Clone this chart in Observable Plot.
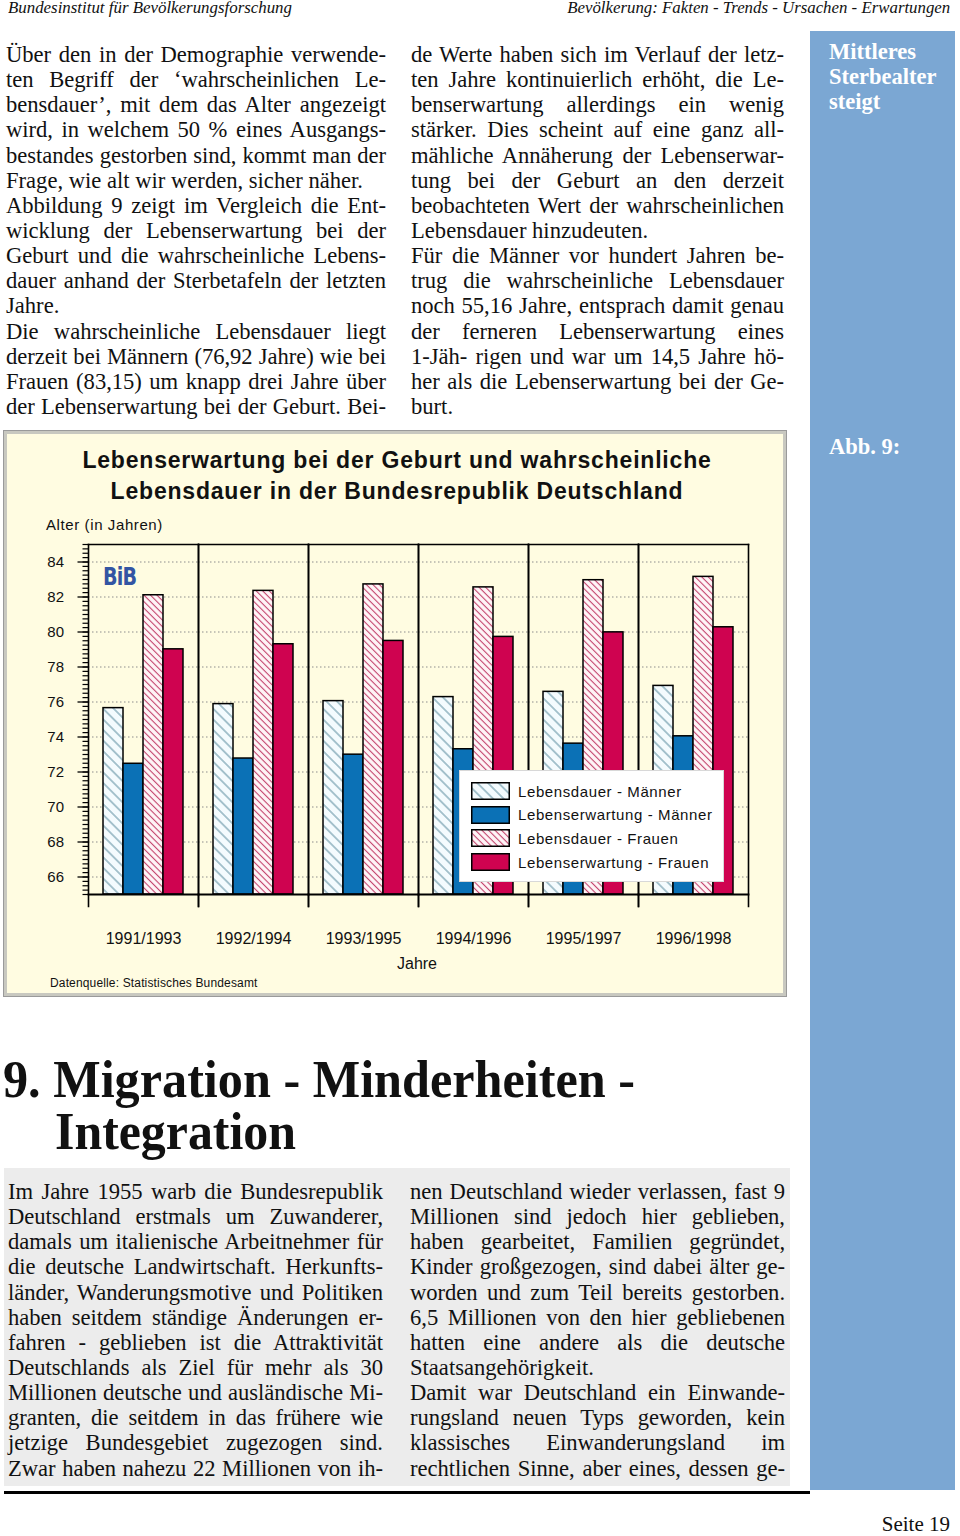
<!DOCTYPE html>
<html lang="de">
<head>
<meta charset="utf-8">
<script src="https://cdn.jsdelivr.net/npm/d3@7"></script>
<script src="https://cdn.jsdelivr.net/npm/@observablehq/plot@0.6"></script>
<style>
  html, body { margin: 0; padding: 0; background: #ffffff; }
  body { position: relative; width: 960px; height: 1536px; overflow: hidden; font-family: "Liberation Serif", "Times New Roman", serif; color: #111; }
  .abs { position: absolute; }
  .hdr { font-style: italic; font-size: 16px; white-space: nowrap; top: -1px; }
  .col { position: absolute; font-size: 22.6px; line-height: 25.15px; }
  .col div { height: 25.15px; white-space: nowrap; }
  .j { text-align: justify; text-align-last: justify; }
  .l { text-align: left; }
  .side { font-weight: bold; color: #ffffff; font-size: 22.5px; line-height: 25px; }
  .sans { font-family: "Liberation Sans", Arial, sans-serif; }
  .legend .row { position: absolute; left: 11px; height: 18px; display: flex; align-items: center; }
  .legend svg { display: block; }
  .legend span { margin-left: 8px; font-size: 15px; letter-spacing: 0.6px; white-space: nowrap; }
</style>
</head>
<body>
<script>
// ---------------- data ----------------
const periods = ["1991/1993", "1992/1994", "1993/1995", "1994/1996", "1995/1997", "1996/1998"];
const seriesNames = ["Lebensdauer - Männer", "Lebenserwartung - Männer", "Lebensdauer - Frauen", "Lebenserwartung - Frauen"];
const lebensdauerMaenner    = [75.65, 75.88, 76.05, 76.28, 76.58, 76.92];
const lebenserwartungMaenner = [72.47, 72.77, 72.99, 73.30, 73.62, 74.04];
const lebensdauerFrauen     = [82.10, 82.35, 82.72, 82.55, 82.96, 83.15];
const lebenserwartungFrauen  = [79.01, 79.30, 79.49, 79.72, 79.98, 80.27];
const yDomain = [65, 85];
const yMajorTicks = [66, 68, 70, 72, 74, 76, 78, 80, 82, 84];
const seriesFills = ["url(#hatchM)", "#0b71b6", "url(#hatchF)", "#cf0350"];
</script>

<!-- pattern definitions -->
<svg width="0" height="0" style="position:absolute;left:0;top:0">
  <defs>
    <pattern id="hatchM" patternUnits="userSpaceOnUse" width="7.5" height="7.5" patternTransform="rotate(-45)">
      <rect width="7.5" height="7.5" fill="#f4fbfe"></rect>
      <line x1="3.75" y1="0" x2="3.75" y2="7.5" stroke="#5b8c9e" stroke-width="1"></line>
    </pattern>
    <pattern id="hatchF" patternUnits="userSpaceOnUse" width="4.6" height="4.6" patternTransform="rotate(-45)">
      <rect width="4.6" height="4.6" fill="#fff6f8"></rect>
      <line x1="2.3" y1="0" x2="2.3" y2="4.6" stroke="#c2406a" stroke-width="1.1"></line>
    </pattern>
  </defs>
</svg>

<!-- running header -->
<div class="abs hdr" id="hdrL" style="left:8px;">Bundesinstitut für Bevölkerungsforschung</div>
<div class="abs hdr" id="hdrR" style="right:10px;">Bevölkerung: Fakten - Trends - Ursachen - Erwartungen</div>

<!-- sidebar -->
<div class="abs" style="left:810px;top:31px;width:145px;height:1459px;background:#7ba7d3;"></div>
<div class="abs side" style="left:829px;top:39px;">Mittleres<br>Sterbealter<br>steigt</div>
<div class="abs side" style="left:829px;top:434px;">Abb. 9:</div>

<!-- text column 1 -->
<div class="col" style="left:6px;top:42px;width:380px;">
  <div class="j">Über den in der Demographie verwende-</div>
  <div class="j">ten Begriff der ‘wahrscheinlichen Le-</div>
  <div class="j">bensdauer’, mit dem das Alter angezeigt</div>
  <div class="j">wird, in welchem 50 % eines Ausgangs-</div>
  <div class="j">bestandes gestorben sind, kommt man der</div>
  <div class="l">Frage, wie alt wir werden, sicher näher.</div>
  <div class="j">Abbildung 9 zeigt im Vergleich die Ent-</div>
  <div class="j">wicklung der Lebenserwartung bei der</div>
  <div class="j">Geburt und die wahrscheinliche Lebens-</div>
  <div class="j">dauer anhand der Sterbetafeln der letzten</div>
  <div class="l">Jahre.</div>
  <div class="j">Die wahrscheinliche Lebensdauer liegt</div>
  <div class="j">derzeit bei Männern (76,92 Jahre) wie bei</div>
  <div class="j">Frauen (83,15) um knapp drei Jahre über</div>
  <div class="j">der Lebenserwartung bei der Geburt. Bei-</div>
</div>

<!-- text column 2 -->
<div class="col" style="left:411px;top:42px;width:373px;">
  <div class="j">de Werte haben sich im Verlauf der letz-</div>
  <div class="j">ten Jahre kontinuierlich erhöht, die Le-</div>
  <div class="j">benserwartung allerdings ein wenig</div>
  <div class="j">stärker. Dies scheint auf eine ganz all-</div>
  <div class="j">mähliche Annäherung der Lebenserwar-</div>
  <div class="j">tung bei der Geburt an den derzeit</div>
  <div class="j">beobachteten Wert der wahrscheinlichen</div>
  <div class="l">Lebensdauer hinzudeuten.</div>
  <div class="j">Für die Männer vor hundert Jahren be-</div>
  <div class="j">trug die wahrscheinliche Lebensdauer</div>
  <div class="j">noch 55,16 Jahre, entsprach damit genau</div>
  <div class="j">der ferneren Lebenserwartung eines</div>
  <div class="j">1-Jäh- rigen und war um 14,5 Jahre hö-</div>
  <div class="j">her als die Lebenserwartung bei der Ge-</div>
  <div class="l">burt.</div>
</div>

<!-- chart panel -->
<div class="abs" style="left:4px;top:431px;width:776px;height:559px;background:#fffce1;border:3px solid #c8c8c0;outline:1px solid #9a9a9a;"></div>
<div class="abs sans" style="left:4px;top:445px;width:786px;text-align:center;font-weight:bold;font-size:23px;letter-spacing:0.8px;line-height:31px;color:#111;">Lebenserwartung bei der Geburt und wahrscheinliche<br>Lebensdauer in der Bundesrepublik Deutschland</div>
<div class="abs sans" style="left:46px;top:516px;font-size:15px;letter-spacing:0.6px;color:#111;">Alter (in Jahren)</div>
<div id="chart" class="abs" style="left:4px;top:531px;"></div>
<div class="abs sans" style="left:103px;top:562px;font-size:25px;font-weight:bold;color:#3355a3;font-family:'DejaVu Sans Condensed','Liberation Sans Narrow','Liberation Sans',sans-serif;letter-spacing:-1px;transform:scaleX(0.85);transform-origin:left;">BiB</div>
<div class="abs sans" style="left:4px;top:955px;width:826px;text-align:center;font-size:16px;color:#111;">Jahre</div>
<div class="abs sans" style="left:50px;top:976px;font-size:12px;letter-spacing:0.15px;color:#111;">Datenquelle: Statistisches Bundesamt</div>

<!-- legend -->
<div class="abs sans legend" id="legend" style="left:459px;top:770px;width:265px;height:112px;background:#ffffff;border:1px solid #d8d8d8;box-sizing:border-box;"></div>

<!-- section heading -->
<div class="abs" id="h1a" style="left:3px;top:1052px;font-weight:bold;font-size:52px;line-height:56px;white-space:nowrap;transform-origin:left top;">9. Migration - Minderheiten -</div>
<div class="abs" id="h1b" style="left:55px;top:1104px;font-weight:bold;font-size:52px;line-height:56px;white-space:nowrap;transform-origin:left top;">Integration</div>

<!-- grey text box -->
<div class="abs" style="left:4px;top:1168px;width:786px;height:318px;background:#ececec;"></div>
<div class="col" style="left:8px;top:1179px;width:375px;">
  <div class="j">Im Jahre 1955 warb die Bundesrepublik</div>
  <div class="j">Deutschland erstmals um Zuwanderer,</div>
  <div class="j">damals um italienische Arbeitnehmer für</div>
  <div class="j">die deutsche Landwirtschaft. Herkunfts-</div>
  <div class="j">länder, Wanderungsmotive und Politiken</div>
  <div class="j">haben seitdem ständige Änderungen er-</div>
  <div class="j">fahren - geblieben ist die Attraktivität</div>
  <div class="j">Deutschlands als Ziel für mehr als 30</div>
  <div class="j">Millionen deutsche und ausländische Mi-</div>
  <div class="j">granten, die seitdem in das frühere wie</div>
  <div class="j">jetzige Bundesgebiet zugezogen sind.</div>
  <div class="j">Zwar haben nahezu 22 Millionen von ih-</div>
</div>
<div class="col" style="left:410px;top:1179px;width:375px;">
  <div class="j">nen Deutschland wieder verlassen, fast 9</div>
  <div class="j">Millionen sind jedoch hier geblieben,</div>
  <div class="j">haben gearbeitet, Familien gegründet,</div>
  <div class="j">Kinder großgezogen, sind dabei älter ge-</div>
  <div class="j">worden und zum Teil bereits gestorben.</div>
  <div class="j">6,5 Millionen von den hier gebliebenen</div>
  <div class="j">hatten eine andere als die deutsche</div>
  <div class="l">Staatsangehörigkeit.</div>
  <div class="j">Damit war Deutschland ein Einwande-</div>
  <div class="j">rungsland neuen Typs geworden, kein</div>
  <div class="j">klassisches Einwanderungsland im</div>
  <div class="j">rechtlichen Sinne, aber eines, dessen ge-</div>
</div>

<div class="abs" style="left:4px;top:1491px;width:806px;height:3px;background:#000;"></div>
<div class="abs" style="right:10px;top:1512px;font-size:21px;">Seite 19</div>

<script>
// tidy table built from the named arrays
const seriesValues = [lebensdauerMaenner, lebenserwartungMaenner, lebensdauerFrauen, lebenserwartungFrauen];
const rows = [];
periods.forEach((p, i) => seriesNames.forEach((s, k) => rows.push({period: p, series: s, value: seriesValues[k][i]})));
const yMinorTicks = d3.range(yDomain[0], yDomain[1] + 0.001, 0.25);

const chart = Plot.plot({
  width: 782,
  height: 444,
  marginLeft: 83,
  marginRight: 38,
  marginTop: 13,
  marginBottom: 81,
  style: {background: "transparent", fontFamily: "'Liberation Sans', Arial, sans-serif", color: "#111"},
  fx: {domain: periods, padding: 0, label: null, axis: null},
  x: {domain: seriesNames, paddingInner: 0, paddingOuter: 0.66, axis: null},
  y: {domain: yDomain, label: null},
  color: {type: "ordinal", domain: seriesNames, range: seriesFills},
  marks: [
    Plot.gridY({ticks: yMajorTicks, stroke: "#8d8d8d", strokeOpacity: 1, strokeDasharray: "1.5,2.5", strokeWidth: 1}),
    Plot.barY(rows, {fx: "period", x: "series", y1: yDomain[0], y2: "value", fill: "series", stroke: "#000", strokeWidth: 1.5}),
    Plot.frame({anchor: "top", stroke: "#000", strokeWidth: 1.6}),
    Plot.frame({anchor: "bottom", stroke: "#000", strokeWidth: 1.8}),
    Plot.frame({anchor: "left", insetBottom: -12, stroke: "#000", strokeWidth: 1.6}),
    Plot.frame({anchor: "right", insetBottom: -12, stroke: "#000", strokeWidth: 1.6}),
    Plot.axisY({ticks: yMinorTicks, tickSize: 5.5, tickFormat: () => "", label: null, stroke: "#000", strokeWidth: 1.2}),
    Plot.axisY({ticks: yMajorTicks, tickSize: 10.5, tickPadding: 14, label: null, fontSize: 15, stroke: "#000", strokeWidth: 1.3, tickFormat: d => String(d)}),
    Plot.axisFx({anchor: "bottom", tickSize: 0, tickPadding: 38, label: null, fontSize: 16})
  ]
});
document.getElementById("chart").appendChild(chart);

// legend (HTML, swatches use the same fills)
const legend = d3.select("#legend");
seriesNames.forEach((s, k) => {
  const row = legend.append("div").attr("class", "row").style("top", (11 + k * 23.7) + "px");
  const sw = row.append("svg").attr("width", 39).attr("height", 18);
  sw.append("rect").attr("x", 0.75).attr("y", 0.75).attr("width", 37.5).attr("height", 16.5)
    .attr("fill", seriesFills[k]).attr("stroke", "#000").attr("stroke-width", 1.5);
  row.append("span").text(s);
});

// keep every text line inside its column width
document.querySelectorAll(".col").forEach(col => {
  const w = col.getBoundingClientRect().width;
  col.querySelectorAll("div").forEach(line => {
    const span = document.createElement("span");
    span.textContent = line.textContent;
    line.textContent = "";
    line.appendChild(span);
    const nat = span.getBoundingClientRect().width;
    if (nat > w - 1) {
      const n = Math.max(1, span.textContent.length - 1);
      line.style.letterSpacing = ((w - 1 - nat) / n) + "px";
    }
  });
});

// fit headings to the widths measured on the reference
function fitTo(id, w, origin) {
  const el = document.getElementById(id);
  const r = el.getBoundingClientRect();
  el.style.transformOrigin = origin;
  el.style.transform = `scaleX(${w / r.width})`;
}
fitTo("h1a", 632, "left top");
fitTo("h1b", 241, "left top");
fitTo("hdrL", 284, "left top");
fitTo("hdrR", 383, "right top");
</script>
</body>
</html>
